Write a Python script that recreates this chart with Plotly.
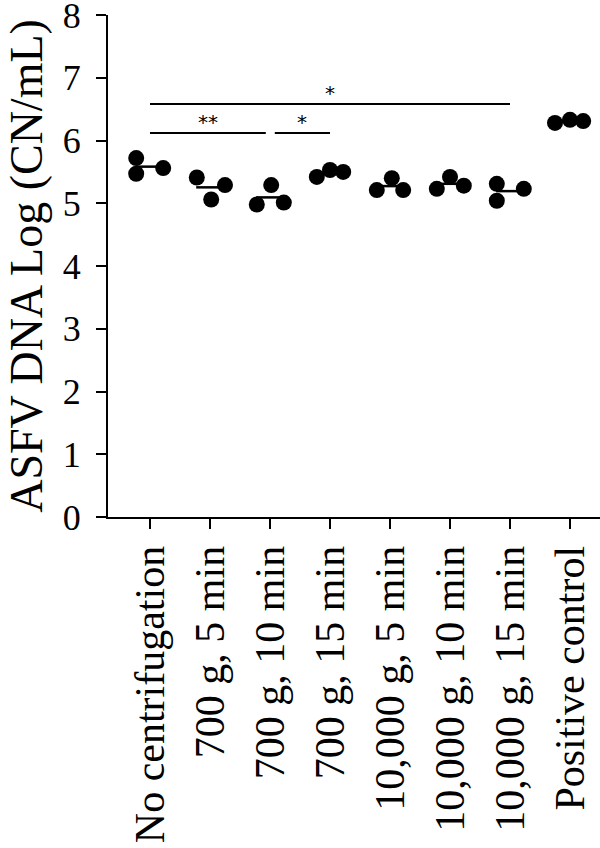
import plotly.graph_objects as go

categories = ["No centrifugation", "700 g, 5 min", "700 g, 10 min", "700 g, 15 min",
              "10,000 g, 5 min", "10,000 g, 10 min", "10,000 g, 15 min", "Positive control"]
values = [
    [5.72, 5.47, 5.56],
    [5.41, 5.06, 5.29],
    [4.98, 5.29, 5.01],
    [5.42, 5.53, 5.50],
    [5.21, 5.40, 5.21],
    [5.23, 5.42, 5.28],
    [5.31, 5.04, 5.23],
    [6.28, 6.33, 6.31],
]
# horizontal scatter offsets of each replicate (in category units)
jitter = [
    [-0.23, -0.23, 0.22],
    [-0.22, 0.02, 0.25],
    [-0.22, 0.02, 0.23],
    [-0.22, 0.0, 0.22],
    [-0.22, 0.03, 0.22],
    [-0.22, 0.0, 0.23],
    [-0.22, -0.22, 0.23],
    [-0.25, 0.0, 0.22],
]
# significance brackets: (start category, end category, y value, label)
brackets = [
    (0, 6, 6.58, "*"),
    (0, 1.93, 6.12, "**"),
    (2.08, 3, 6.12, "*"),
]

FONT = "Liberation Serif"
xs, ys = [], []
for i, (vals, offs) in enumerate(zip(values, jitter)):
    for v, o in zip(vals, offs):
        xs.append(i + o)
        ys.append(v)

fig = go.Figure()
fig.add_trace(go.Scatter(x=xs, y=ys, mode="markers",
                         marker=dict(size=16, color="black"),
                         showlegend=False, hoverinfo="skip"))

shapes = []
for i, vals in enumerate(values):
    m = sum(vals) / len(vals)
    shapes.append(dict(type="line", xref="x", yref="y", x0=i - 0.23, x1=i + 0.23,
                       y0=m, y1=m, line=dict(color="black", width=2.5), layer="below"))
annotations = []
for x0, x1, yv, lab in brackets:
    shapes.append(dict(type="line", xref="x", yref="y", x0=x0, x1=x1, y0=yv, y1=yv,
                       line=dict(color="black", width=2)))
    annotations.append(dict(x=(x0 + x1) / 2, y=yv, xref="x", yref="y", text=lab,
                            showarrow=False, yanchor="bottom", yshift=-3,
                            font=dict(family="DejaVu Sans", size=20, color="#000000")))

fig.update_layout(
    width=600, height=848,
    margin=dict(l=108, r=0, t=15, b=331),
    paper_bgcolor="white", plot_bgcolor="white",
    font=dict(family=FONT, size=40, color="#000000"),
    shapes=shapes, annotations=annotations,
    showlegend=False,
)
fig.update_xaxes(
    range=[-0.7, 7.5], tickmode="array", tickvals=list(range(len(categories))),
    ticktext=categories, tickangle=-90, automargin=False,
    showline=True, linecolor="black", linewidth=2,
    ticks="outside", ticklen=10, tickwidth=2, tickcolor="black",
    showgrid=False, zeroline=False, ticklabeloverflow="allow",
    tickfont=dict(family=FONT, size=42, color="#000000"),
)
fig.update_yaxes(
    range=[0, 8], tickvals=list(range(9)), automargin=False,
    showline=True, linecolor="black", linewidth=2,
    ticks="outside", ticklen=10, tickwidth=2, tickcolor="black",
    showgrid=False, zeroline=False, ticklabeloverflow="allow", ticklabelstandoff=8,
    tickfont=dict(family=FONT, size=36, color="#000000"),
    title=dict(text="ASFV DNA Log (CN/mL)", font=dict(family=FONT, size=46, color="#000000"), standoff=6),
)
fig.write_html("out.html", config={"displayModeBar": False},
               post_script="document.body.style.margin='0';document.body.style.overflow='hidden';")
